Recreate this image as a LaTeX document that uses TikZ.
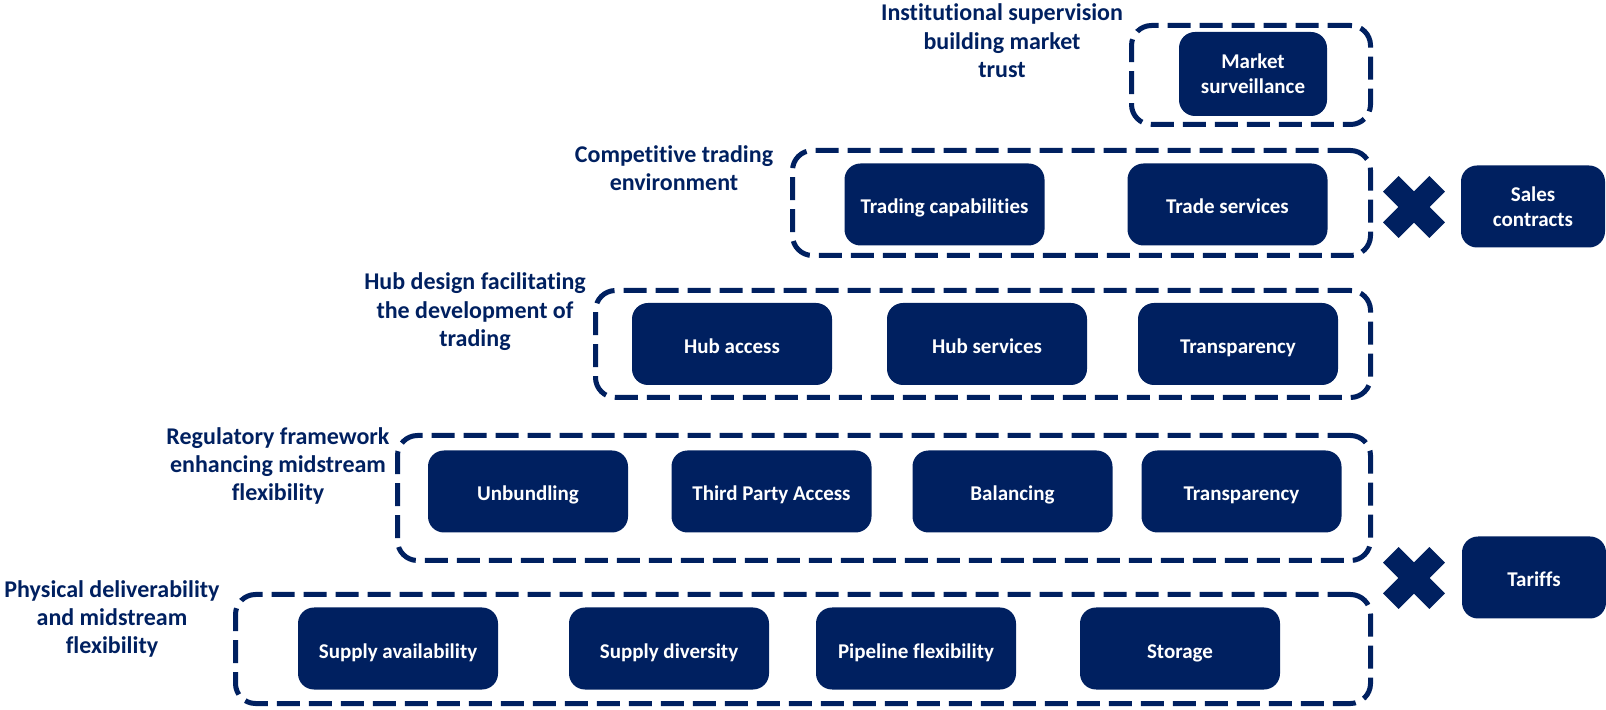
\documentclass[tikz,border=0pt]{standalone}
\usepackage{fontspec}
\setmainfont{Carlito}[Ligatures=NoCommon]
\definecolor{navy}{HTML}{002060}
% keep t and i apart (no ligature)
\newcommand\tisep{t\kern0pt i}

\tikzset{
  tile/.style={fill=navy, text=white, rounded corners=8pt, inner sep=0pt,
    minimum width=100pt, minimum height=41pt, align=center,
    font=\bfseries\fontsize{10.5}{12.6}\selectfont},
  block/.style={tile, text height=9.5pt, text depth=0pt},
  group/.style={draw=navy, line width=2.5pt, dash pattern=on 11.5pt off 4.5pt,
    rounded corners=10pt, inner sep=0pt},
  layer/.style={text=navy, align=center, inner sep=0pt,
    font=\bfseries\fontsize{12}{14.2}\selectfont},
  xmark/.pic={
    \fill[navy, rotate=45] (-32.8,-11) rectangle (32.8,11);
    \fill[navy, rotate=-45] (-32.8,-11) rectangle (32.8,11);
  }
}

\begin{document}
\begin{tikzpicture}[x=0.5pt, y=-0.5pt]
  \useasboundingbox (0,0) rectangle (1606,710);

  % dashed frames, bottom layer first
  \node[group, minimum width=567.5pt, minimum height=54.5pt] (phys) at (803,649) {};
  \node[group, minimum width=486.5pt, minimum height=62.5pt] (reg) at (884,498) {};
  \node[group, minimum width=387.5pt, minimum height=53.5pt] (hub) at (983,344) {};
  \node[group, minimum width=289pt, minimum height=52.5pt] (comp) at (1081.5,203) {};
  \node[group, minimum width=119.5pt, minimum height=49.5pt] (inst) at (1251,75) {};

  % layer titles
  \node[layer] (physT) at (112,619) {Physical deliverability\\and midstream\\flexibility};
  \node[layer] (regT) at (278,466) {Regulatory framework\\enhancing midstream\\flexibility};
  \node[layer] (hubT) at (475,312) {Hub design facilita\tisep ng\\the development of\\trading};
  \node[layer] (compT) at (674,168) {Compe\tisep\tisep ve trading\\environment};
  \node[layer] (instT) at (1002,41) {Institu\tisep onal supervision\\building market\\trust};

  % physical layer
  \node[block] (supA) at (398,648.5) {Supply availability};
  \node[block] (supD) at (669,648.5) {Supply diversity};
  \node[block] (pipe) at (916,648.5) {Pipeline flexibility};
  \node[block] (stor) at (1180,648.5) {Storage};

  % regulation
  \node[block] (unb) at (528,491.5) {Unbundling};
  \node[block] (tpa) at (771.5,491.5) {Third Party Access};
  \node[block] (bal) at (1012.5,491.5) {Balancing};
  \node[block] (trR) at (1241.5,491.5) {Transparency};

  % hub design
  \node[block] (hubA) at (732,344) {Hub access};
  \node[block] (hubS) at (987,344) {Hub services};
  \node[block] (trH) at (1238,344) {Transparency};

  % trading
  \node[block] (trC) at (944.5,204.5) {Trading capabili\tisep es};
  \node[block] (trS) at (1227.5,204.5) {Trade services};

  % supervision
  \node[tile, minimum width=74pt, minimum height=42pt] (surv) at (1253,74) {Market\\surveillance};

  % outside factors
  \pic (x1) at (1414,207) {xmark};
  \pic (x2) at (1414,578) {xmark};
  \node[tile, minimum width=72pt] (sales) at (1533,206.5) {Sales\\contracts};
  \node[block, minimum width=72pt] (tar) at (1534,577.5) {Tariffs};
\end{tikzpicture}
\end{document}
